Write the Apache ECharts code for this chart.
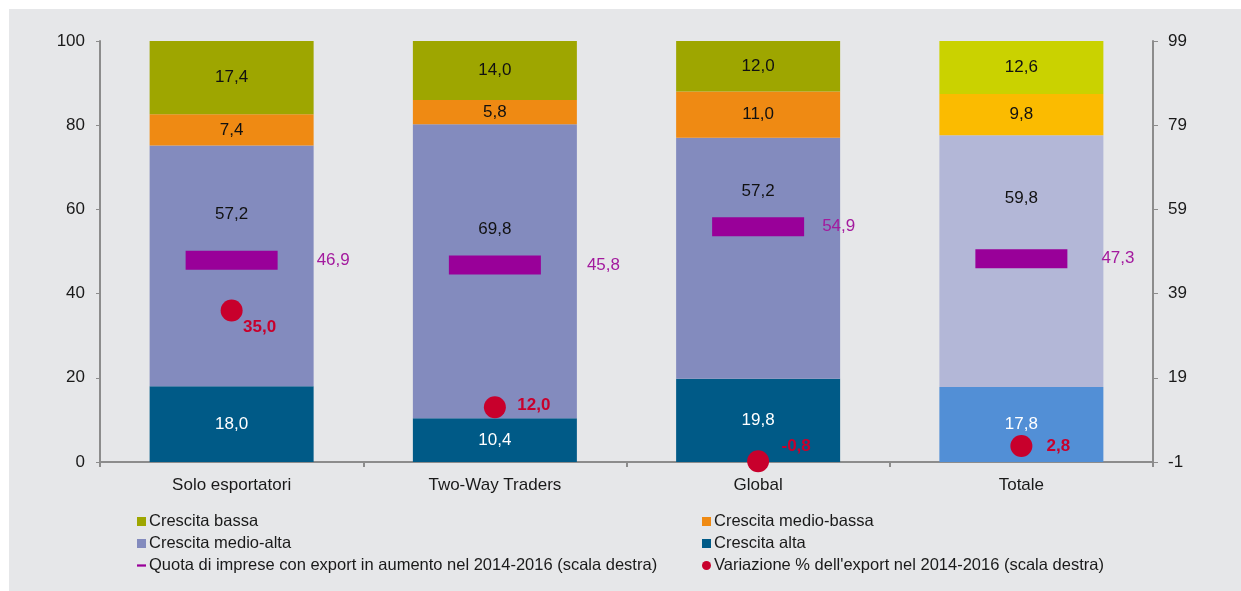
<!DOCTYPE html>
<html>
<head>
<meta charset="utf-8">
<script src="https://cdn.jsdelivr.net/npm/echarts@6/dist/echarts.min.js"></script>
<style>
    body { margin: 0; background: #fff; }
    #main { position: absolute; left: 9px; top: 9px; width: 1232px; height: 582px; }
</style>
</head>
<body>
<div id="main"></div>
<script>
// dati
var categories = ['Solo esportatori', 'Two-Way Traders', 'Global', 'Totale'];
var crescitaBassa = [17.4, 14.0, 12.0, 12.6];
var crescitaMedioBassa = [7.4, 5.8, 11.0, 9.8];
var crescitaMedioAlta = [57.2, 69.8, 57.2, 59.8];
var crescitaAlta = [18.0, 10.4, 19.8, 17.8];
var quotaImprese = [46.9, 45.8, 54.9, 47.3];
var variazioneExport = [35.0, 12.0, -0.8, 2.8];

// stile (Totale ha colori diversi)
var FONT = 'Liberation Sans, Arial, sans-serif';
var colBassa = ['#9ea600', '#9ea600', '#9ea600', '#cad200'];
var colMedioBassa = ['#ef8a13', '#ef8a13', '#ef8a13', '#fbbb00'];
var colMedioAlta = ['#838bbe', '#838bbe', '#838bbe', '#b3b7d7'];
var colAlta = ['#005a87', '#005a87', '#005a87', '#528fd6'];
var medioAltaShift = [-52, -42, -67, -63];
var quotaDist = [39, 46, 18, 34];
var varOffset = [[28, 17], [39, -2], [38, -15], [37, 0]];

function fmt(v) {
    return v.toFixed(1).replace('.', ',');
}

function barData(values, colors, shifts) {
    var out = [];
    for (var i = 0; i < values.length; i++) {
        var d = { value: values[i], itemStyle: { color: colors[i] } };
        if (shifts) d.label = { offset: [0, shifts[i]] };
        out.push(d);
    }
    return out;
}

function barSeries(name, values, colors, labelColor, shifts) {
    return {
        name: name,
        type: 'bar',
        stack: 'tot',
        barWidth: 164,
        itemStyle: { color: colors[0] },
        label: {
            show: true,
            position: 'inside',
            color: labelColor,
            fontSize: 17,
            fontFamily: FONT,
            formatter: function(p) { return fmt(p.value); }
        },
        data: barData(values, colors, shifts)
    };
}

var quotaData = [];
for (var i = 0; i < quotaImprese.length; i++) {
    quotaData.push({ value: [categories[i], quotaImprese[i]], label: { distance: quotaDist[i] } });
}
var varData = [];
for (var j = 0; j < variazioneExport.length; j++) {
    varData.push({ value: [categories[j], variazioneExport[j]], label: { offset: varOffset[j] } });
}

var myChart = echarts.init(document.getElementById('main'));

var legendText = { fontSize: 16.5, fontFamily: FONT, color: '#1a1a1a', lineHeight: 17, padding: [0, 0, 0, -2] };
var dashIcon = 'path://M0,0L8,0L8,2L0,2Z';

var option = {
    backgroundColor: '#e6e7e9',
    animation: false,
    textStyle: { fontFamily: FONT },
    grid: { left: 91, right: 88, top: 32, bottom: 129 },
    legend: [{
        orient: 'vertical',
        left: 123,
        top: 499,
        itemWidth: 9,
        itemHeight: 9,
        itemGap: 5,
        textStyle: legendText,
        data: [
            { name: 'Crescita bassa', icon: 'rect' },
            { name: 'Crescita medio-alta', icon: 'rect' },
            { name: 'Quota di imprese con export in aumento nel 2014-2016 (scala destra)', icon: dashIcon }
        ]
    }, {
        orient: 'vertical',
        left: 688,
        top: 499,
        itemWidth: 9,
        itemHeight: 9,
        itemGap: 5,
        textStyle: legendText,
        data: [
            { name: 'Crescita medio-bassa', icon: 'rect' },
            { name: 'Crescita alta', icon: 'rect' },
            { name: "Variazione % dell'export nel 2014-2016 (scala destra)", icon: 'circle' }
        ]
    }],
    xAxis: {
        type: 'category',
        data: categories,
        axisLine: { lineStyle: { color: '#8c8c8c', width: 2 } },
        axisTick: { show: true, length: 5, lineStyle: { color: '#8c8c8c', width: 2 } },
        axisLabel: { fontSize: 17, color: '#1a1a1a', margin: 15, fontFamily: FONT }
    },
    yAxis: [{
        type: 'value',
        min: 0,
        max: 100,
        interval: 20,
        splitLine: { show: false },
        axisLine: { show: true, lineStyle: { color: '#8c8c8c', width: 2 } },
        axisTick: { show: true, length: 4, lineStyle: { color: '#8c8c8c', width: 1 } },
        axisLabel: { fontSize: 17, color: '#1a1a1a', margin: 15, fontFamily: FONT }
    }, {
        type: 'value',
        min: -1,
        max: 99,
        alignTicks: true,
        position: 'right',
        splitLine: { show: false },
        axisLine: { show: true, lineStyle: { color: '#8c8c8c', width: 2 } },
        axisTick: { show: true, length: 5, lineStyle: { color: '#8c8c8c', width: 1 } },
        axisLabel: { fontSize: 17, color: '#1a1a1a', margin: 15, fontFamily: FONT }
    }],
    series: [
        barSeries('Crescita alta', crescitaAlta, colAlta, '#ffffff'),
        barSeries('Crescita medio-alta', crescitaMedioAlta, colMedioAlta, '#111111', medioAltaShift),
        barSeries('Crescita medio-bassa', crescitaMedioBassa, colMedioBassa, '#111111'),
        barSeries('Crescita bassa', crescitaBassa, colBassa, '#111111'),
        {
            name: 'Quota di imprese con export in aumento nel 2014-2016 (scala destra)',
            type: 'scatter',
            yAxisIndex: 1,
            symbol: 'rect',
            symbolSize: [92, 19],
            itemStyle: { color: '#990099', opacity: 1 },
            z: 5,
            label: {
                show: true,
                position: 'right',
                color: '#a31a9e',
                fontSize: 17,
                fontFamily: FONT,
                formatter: function(p) { return fmt(p.value[1]); }
            },
            data: quotaData
        },
        {
            name: "Variazione % dell'export nel 2014-2016 (scala destra)",
            type: 'scatter',
            yAxisIndex: 1,
            symbol: 'circle',
            symbolSize: 22,
            itemStyle: { color: '#c8002c', opacity: 1 },
            z: 6,
            label: {
                show: true,
                position: 'inside',
                color: '#c8002c',
                fontSize: 17,
                fontWeight: 'bold',
                fontFamily: FONT,
                formatter: function(p) { return fmt(p.value[1]); }
            },
            data: varData
        }
    ]
};
myChart.setOption(option);
</script>
</body>
</html>
